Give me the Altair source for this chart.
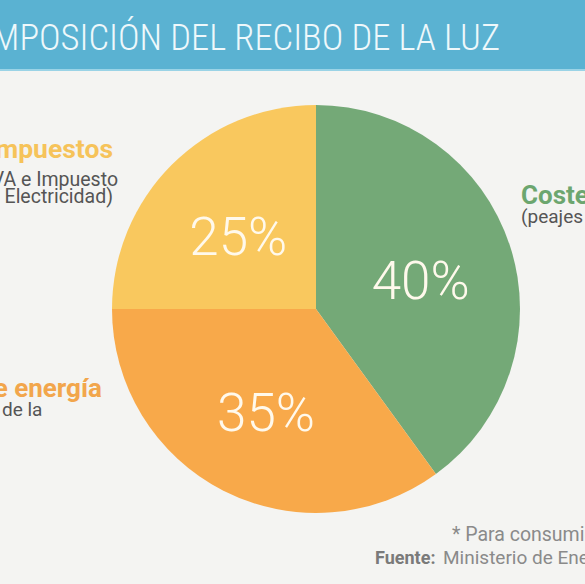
import altair as alt
import pandas as pd

# --- data ---
categorias = ["Costes regulados", "Coste de energía", "Impuestos"]
porcentajes = [40, 35, 25]
etiquetas = ["40%", "35%", "25%"]
orden = [1, 2, 3]
colores = ["#74A977", "#F8A94A", "#F9C85E"]

titulo = "COMPOSICIÓN DEL RECIBO DE LA LUZ"
impuestos_lineas = ["Impuestos", "(IVA e Impuesto", "de Electricidad)"]
energia_lineas = ["Coste de energía", "de la"]
regulados_lineas = ["Costes regulados", "(peajes de acceso)"]
nota = "* Para consumidores domésticos"
fuente_titulo = "Fuente:"
fuente_texto = "Ministerio de Energía"

df = pd.DataFrame({"categoria": categorias, "valor": porcentajes,
                   "etiqueta": etiquetas, "orden": orden})

W, H = 585, 584
CX, CY, R = 316, 309, 204

base = alt.Chart(df).encode(
    theta=alt.Theta("valor:Q", stack=True),
    order=alt.Order("orden:Q"),
    x=alt.value(CX),
    y=alt.value(CY),
)
pie = base.mark_arc(radius=R, strokeWidth=0).encode(
    color=alt.Color("categoria:N", scale=alt.Scale(domain=categorias, range=colores), legend=None)
)
pct = base.mark_text(radius=110, font="Roboto", fontWeight=300, fontSize=53,
                     color="#FFF9EC", dy=8, baseline="middle", align="center").encode(
    text="etiqueta:N"
)

one = alt.Data(values=[{}])

def rect(x0, x1, y0, y1, color):
    return alt.Chart(one).mark_rect(color=color).encode(
        x=alt.value(x0), x2=alt.value(x1), y=alt.value(y0), y2=alt.value(y1))

def txt(s, x, y, size, color, weight="normal", align="left", font="Roboto"):
    return alt.Chart(one).mark_text(
        text=s, align=align, baseline="alphabetic", fontSize=size,
        fontWeight=weight, color=color, font=font).encode(
        x=alt.value(x), y=alt.value(y))

bar = rect(0, W, 0, 69, "#5AB2D2")
bar_line = rect(0, W, 69, 71, "#9AD3E6")
title = txt(titulo, 500, 50, 36.5, "#EEF8FB", weight=300, align="right",
            font="'Roboto Condensed', 'Liberation Sans Narrow', 'DejaVu Sans Condensed', Roboto")

gris = "#555555"
layers = [
    bar, bar_line, title, pie, pct,
    txt(impuestos_lineas[0], 113, 158, 26.5, "#F6C35A", "bold", "right"),
    txt(impuestos_lineas[1], 118, 186, 19.5, gris, "normal", "right"),
    txt(impuestos_lineas[2], 113, 203, 19.5, gris, "normal", "right"),
    txt(energia_lineas[0], 102, 397, 26, "#F2A64C", "bold", "right"),
    txt(energia_lineas[1], 2, 416, 19, gris, "normal", "left"),
    txt(regulados_lineas[0], 521, 204, 26, "#6CA66F", "bold", "left"),
    txt(regulados_lineas[1], 521, 223, 19, gris, "normal", "left"),
    txt(nota, 452, 541, 19.5, "#8A8A8A", "normal", "left"),
    txt(fuente_titulo, 375, 564, 18, "#7A7A7A", "bold", "left"),
    txt(fuente_texto, 443, 564, 19, "#8A8A8A", "normal", "left"),
]

chart = alt.layer(*layers).properties(
    width=W, height=H,
    autosize=alt.AutoSizeParams(type="none"),
    padding=0,
    background="#F4F4F2",
).configure_view(strokeWidth=0)

chart.save("out.html", embed_options={"renderer": "svg", "actions": False})
